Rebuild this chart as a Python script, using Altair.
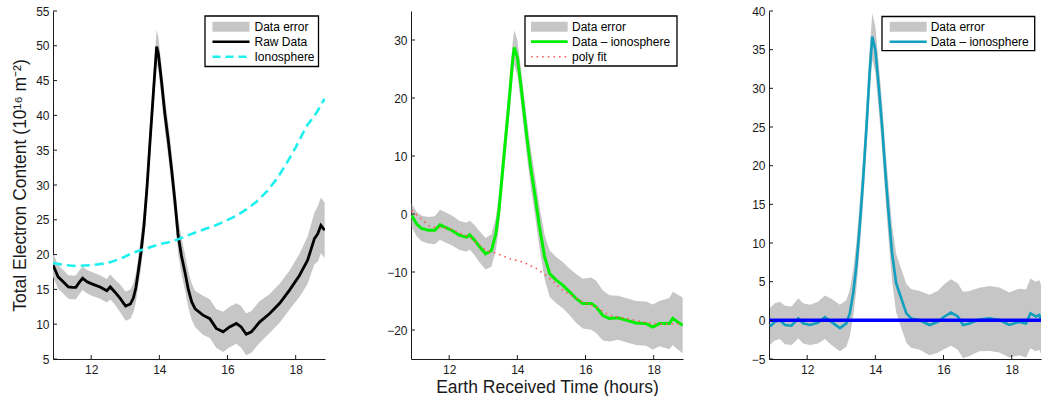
import altair as alt
import pandas as pd

# ---------------- data ----------------
raw_t = [10.88, 11.03, 11.18, 11.33, 11.45, 11.55, 11.65, 11.75, 11.88, 12.02, 12.26, 12.46,
         12.56, 12.7, 12.85, 13.01, 13.15, 13.24, 13.31, 13.38, 13.46, 13.55, 13.64, 13.73,
         13.83, 13.92, 13.97, 14.07, 14.16, 14.26, 14.36, 14.46, 14.55, 14.65, 14.75, 14.85,
         14.95, 15.05, 15.28, 15.48, 15.67, 15.87, 16.06, 16.26, 16.4, 16.55, 16.7, 16.94,
         17.23, 17.53, 17.82, 18.11, 18.35, 18.55, 18.65, 18.74, 18.85]
raw_v = [18.5, 16.8, 16.1, 15.35, 15.3, 15.3, 16.0, 16.6, 16.1, 15.8, 15.35, 14.8,
         15.35, 14.6, 13.7, 12.6, 12.9, 13.8, 15.2, 17.5, 20.3, 24.2, 29.8, 36.5,
         43.6, 49.9, 48.9, 44.6, 40.3, 36.5, 32.2, 27.5, 22.8, 19.8, 17.5, 15.0,
         13.2, 12.2, 11.3, 10.8, 9.4, 8.9, 9.6, 10.1, 9.6, 8.55, 8.9, 10.3,
         11.5, 13.0, 14.9, 17.0, 19.2, 22.3, 23.0, 24.2, 23.5]
raw_err = [1.7, 1.7, 1.7, 1.7, 1.7, 1.7, 1.7, 1.7, 1.7, 1.7, 1.7, 1.7,
           1.8, 1.8, 2.0, 2.1, 2.1, 2.1, 2.1, 2.1, 2.4, 2.4, 2.4, 2.4,
           2.4, 2.4, 2.4, 2.4, 2.4, 2.4, 2.4, 2.4, 2.6, 2.6, 2.6, 2.6,
           2.6, 2.6, 2.8, 2.8, 2.8, 2.9, 2.9, 2.9, 3.0, 3.0, 3.0, 3.0,
           2.8, 2.8, 2.8, 3.1, 3.4, 3.7, 4.0, 4.0, 4.0]

iono_t = [10.88, 11.2, 11.57, 12.06, 12.5, 12.85, 13.25, 13.63, 14.0, 14.4, 14.8, 15.18,
          15.6, 15.97, 16.3, 16.55, 16.85, 17.14, 17.45, 17.73, 18.0, 18.31, 18.6, 18.85]
iono_v = [18.8, 18.5, 18.35, 18.5, 18.8, 19.4, 20.3, 20.9, 21.5, 21.9, 22.7, 23.4,
          24.1, 24.9, 25.7, 26.5, 27.6, 29.0, 30.9, 33.1, 35.4, 38.4, 40.3, 42.4]

mid_t = [10.9, 11.04, 11.19, 11.39, 11.58, 11.73, 11.87, 12.07, 12.31, 12.51, 12.6, 12.75,
         12.9, 13.07, 13.24, 13.37, 13.46, 13.56, 13.66, 13.76, 13.86, 13.91, 14.0, 14.1,
         14.2, 14.29, 14.39, 14.51, 14.65, 14.8, 14.95, 15.14, 15.34, 15.53, 15.73, 15.92,
         16.17, 16.31, 16.51, 16.7, 16.95, 17.19, 17.48, 17.78, 17.97, 18.17, 18.46, 18.56,
         18.7, 18.85]
mid_v = [-0.25, -1.7, -2.5, -2.8, -2.8, -1.85, -2.25, -2.8, -3.7, -4.0, -3.6, -4.55,
         -5.7, -6.85, -6.3, -3.4, 0.6, 7.0, 13.3, 19.6, 26.4, 28.7, 27.0, 22.4,
         17.3, 12.7, 8.1, 3.5, -2.25, -7.4, -10.3, -11.4, -12.3, -13.4, -14.6, -15.45,
         -15.45, -16.0, -17.5, -18.0, -17.9, -18.3, -18.8, -18.9, -19.5, -18.9, -18.9, -18.0,
         -18.6, -19.2]
mid_err = [2.0, 2.1, 2.2, 2.3, 2.4, 2.6, 2.6, 2.6, 2.5, 2.5, 2.5, 2.6,
           2.7, 2.7, 2.8, 2.8, 2.9, 2.9, 3.0, 3.0, 3.0, 3.0, 3.0, 3.0,
           3.1, 3.2, 3.3, 3.4, 3.6, 3.8, 4.0, 4.0, 4.0, 4.0, 4.2, 4.3,
           4.5, 4.5, 4.3, 4.0, 3.8, 3.8, 3.8, 3.8, 3.9, 3.9, 4.4, 4.6,
           4.7, 4.8]

fit_t = [10.9, 11.45, 12.02, 12.6, 13.09, 13.39, 13.78, 14.17, 14.56, 14.95, 15.34,
         15.92, 16.31, 16.7, 17.19, 17.68, 18.17, 18.66, 18.85]
fit_v = [0.6, -2.25, -2.5, -4.0, -6.3, -6.8, -7.7, -8.3, -9.4, -11.1, -13.2,
         -15.2, -16.0, -17.5, -18.0, -18.6, -19.0, -18.9, -19.0]

res_t = [10.91, 11.05, 11.2, 11.35, 11.54, 11.74, 11.88, 12.08, 12.32, 12.52, 12.71, 12.96,
         13.15, 13.25, 13.35, 13.44, 13.54, 13.64, 13.74, 13.83, 13.91, 14.0, 14.1, 14.2,
         14.29, 14.39, 14.49, 14.61, 14.71, 14.81, 14.91, 15.05, 15.3, 15.59, 15.83, 16.03,
         16.22, 16.42, 16.57, 16.76, 17.05, 17.35, 17.64, 17.93, 18.22, 18.42, 18.55, 18.71,
         18.81, 18.87]
res_v = [-0.8, -0.2, 0.0, -0.6, -0.7, 0.25, -0.4, -0.6, -0.3, 0.4, -0.2, -1.0,
         -0.4, 0.9, 3.5, 6.9, 12.1, 18.1, 25.0, 31.9, 36.7, 35.0, 30.2, 25.0,
         19.4, 13.8, 8.7, 4.8, 3.5, 2.2, 0.9, 0.25, 0.0, -0.6, -0.2, 0.5,
         1.0, 0.5, -0.6, -0.4, 0.1, 0.25, 0.04, -0.6, -0.2, -0.4, 0.9, 0.5,
         0.7, 0.0]
res_err = [2.4, 2.4, 2.4, 2.5, 2.5, 2.6, 2.6, 2.6, 2.7, 2.8, 3.0, 3.0,
           3.0, 3.0, 3.0, 3.0, 3.0, 3.0, 3.0, 3.0, 3.0, 3.0, 3.0, 3.0,
           3.2, 3.4, 3.6, 3.8, 3.8, 3.8, 3.8, 3.8, 3.8, 3.9, 4.0, 4.2,
           4.3, 4.3, 4.3, 4.2, 4.1, 4.2, 4.2, 4.2, 4.3, 4.4, 4.5, 4.5,
           4.5, 4.5]

x_ticks = [12, 14, 16, 18]
left_y_ticks = [5, 10, 15, 20, 25, 30, 35, 40, 45, 50, 55]
mid_y_ticks = [-20, -10, 0, 10, 20, 30]
right_y_ticks = [-5, 0, 5, 10, 15, 20, 25, 30, 35, 40]
zero_line = [0]

# ---------------- styling ----------------
W, H = 272, 348
XDOM = [10.88, 18.86]
FONT = "Liberation Sans"
AX = "#1a1a1a"
GRAY = "#c6c6c6"
TFS = 17.5


def band_df(t, v, e):
    return pd.DataFrame({"t": t, "v": v,
                         "lo": [a - b for a, b in zip(v, e)],
                         "hi": [a + b for a, b in zip(v, e)]})


def xenc(field, title):
    return alt.X(field, type="quantitative",
                 scale=alt.Scale(domain=XDOM, nice=False, zero=False),
                 axis=alt.Axis(values=x_ticks, title=title, ticks=False, tickSize=0, grid=False,
                               domainColor=AX, domainWidth=1, labelColor=AX, labelFontSize=12,
                               labelPadding=5, labelFont=FONT, titleFont=FONT,
                               titleFontSize=TFS, titleFontWeight="normal", titleColor=AX,
                               titlePadding=3))


def yenc(field, dom, ticks, title):
    return alt.Y(field, type="quantitative",
                 scale=alt.Scale(domain=dom, nice=False, zero=False),
                 axis=alt.Axis(values=ticks, title=title, ticks=False, tickSize=0, grid=False,
                               domainColor=AX, domainWidth=1, labelColor=AX, labelFontSize=12,
                               labelPadding=4, labelFont=FONT, titleFont=FONT,
                               titleFontSize=TFS, titleFontWeight="normal", titleColor=AX,
                               titlePadding=6))


def tick_layers(dom, yt, xtitle, ytitle):
    ly = alt.Chart(pd.DataFrame({"v": yt})).mark_rule(color=AX, strokeWidth=1).encode(
        y=yenc("v", dom, yt, ytitle), x=alt.value(0), x2=alt.value(4))
    lx = alt.Chart(pd.DataFrame({"t": x_ticks})).mark_rule(color=AX, strokeWidth=1).encode(
        x=xenc("t", xtitle), y=alt.value(H), y2=alt.value(H - 4))
    return [ly, lx]


def legend_layers(x0, x1, y0, y1, sx0, sx1, lx, row0, items):
    one = alt.Data(values=[{"k": 0}])
    layers = [alt.Chart(one).mark_rect(fill="white", stroke="black", strokeWidth=1.3).encode(
        x=alt.value(x0), x2=alt.value(x1), y=alt.value(y0), y2=alt.value(y1))]
    for i, (label, kind, color, dash, sw) in enumerate(items):
        yy = row0 + 15 * i
        if kind == "band":
            layers.append(alt.Chart(one).mark_rect(fill=color).encode(
                x=alt.value(sx0), x2=alt.value(sx1), y=alt.value(yy - 5), y2=alt.value(yy + 5)))
        else:
            kw = dict(color=color, strokeWidth=sw)
            if dash:
                kw["strokeDash"] = dash
            layers.append(alt.Chart(one).mark_rule(**kw).encode(
                x=alt.value(sx0), x2=alt.value(sx1), y=alt.value(yy)))
        layers.append(alt.Chart(one).mark_text(text=label, align="left", baseline="middle",
                                               fontSize=12, font=FONT, color="black").encode(
            x=alt.value(lx), y=alt.value(yy)))
    return layers


# ---------------- left panel ----------------
LDOM = [5, 55]
LT = "Total Electron Content (10¹⁶ m⁻²)"
dfl = band_df(raw_t, raw_v, raw_err)
dfi = pd.DataFrame({"t": iono_t, "v": iono_v})
left_layers = [
    alt.Chart(dfl).mark_area(color=GRAY, clip=True).encode(
        x=xenc("t", None), y=yenc("lo", LDOM, left_y_ticks, LT), y2="hi"),
    alt.Chart(dfl).mark_line(color="black", strokeWidth=2.8, clip=True).encode(
        x=xenc("t", None), y=yenc("v", LDOM, left_y_ticks, LT)),
    alt.Chart(dfi).mark_line(color="#1ef0f0", strokeWidth=2.6, strokeDash=[9, 5], clip=True).encode(
        x=xenc("t", None), y=yenc("v", LDOM, left_y_ticks, LT)),
] + tick_layers(LDOM, left_y_ticks, None, LT) + legend_layers(
    152, 265.5, 5, 55.5, 159.5, 196.5, 201.5, 15.7,
    [("Data error", "band", GRAY, None, 0),
     ("Raw Data", "line", "black", None, 2.4),
     ("Ionosphere", "line", "#1ef0f0", [8, 5], 2.6)])
left = alt.layer(*left_layers).properties(width=W, height=H)

# ---------------- middle panel ----------------
MDOM = [-25, 35]
XT = "Earth Received Time (hours)"
dfm = band_df(mid_t, mid_v, mid_err)
dff = pd.DataFrame({"t": fit_t, "v": fit_v})
mid_layers = [
    alt.Chart(dfm).mark_area(color=GRAY, clip=True).encode(
        x=xenc("t", XT), y=yenc("lo", MDOM, mid_y_ticks, None), y2="hi"),
    alt.Chart(dfm).mark_line(color="#00ee00", strokeWidth=3, clip=True).encode(
        x=xenc("t", XT), y=yenc("v", MDOM, mid_y_ticks, None)),
    alt.Chart(dff).mark_line(color="#ff5a5a", strokeWidth=1.6, strokeDash=[1.6, 4], clip=True).encode(
        x=xenc("t", XT), y=yenc("v", MDOM, mid_y_ticks, None)),
] + tick_layers(MDOM, mid_y_ticks, XT, None) + legend_layers(
    114, 266, 5, 55, 120, 156.7, 161, 15.7,
    [("Data error", "band", GRAY, None, 0),
     ("Data \u2013 ionosphere", "line", "#00ee00", None, 2.8),
     ("poly fit", "line", "#ff5a5a", [1.6, 4], 1.6)])
mid = alt.layer(*mid_layers).properties(width=W, height=H)

# ---------------- right panel ----------------
RDOM = [-5, 40]
dfr = band_df(res_t, res_v, res_err)
right_layers = [
    alt.Chart(dfr).mark_area(color=GRAY, clip=True).encode(
        x=xenc("t", None), y=yenc("lo", RDOM, right_y_ticks, None), y2="hi"),
    alt.Chart(dfr).mark_line(color="#109fbf", strokeWidth=2.6, clip=True).encode(
        x=xenc("t", None), y=yenc("v", RDOM, right_y_ticks, None)),
    alt.Chart(pd.DataFrame({"v": zero_line})).mark_rule(color="#0000ff", strokeWidth=3.5).encode(
        y=yenc("v", RDOM, right_y_ticks, None)),
] + tick_layers(RDOM, right_y_ticks, None, None) + legend_layers(
    113, 265.7, 5.5, 39.7, 120.7, 157.7, 161.7, 15.7,
    [("Data error", "band", GRAY, None, 0),
     ("Data \u2013 ionosphere", "line", "#109fbf", None, 2.6)])
right = alt.layer(*right_layers).properties(width=W, height=H)

chart = alt.hconcat(left, mid, right, spacing=86, bounds="flush").properties(
    padding={"left": 11, "top": 5, "right": 0, "bottom": 0}
).configure(font=FONT).configure_view(stroke=None)

chart.save("out.html", embed_options={"renderer": "svg", "actions": False})
